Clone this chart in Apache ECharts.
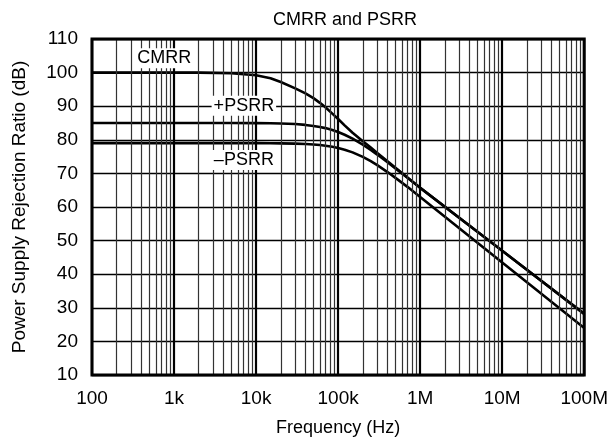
<!DOCTYPE html>
<html>
<head>
<meta charset="utf-8">
<script src="https://cdn.jsdelivr.net/npm/echarts@6/dist/echarts.min.js"></script>
<style>
html, body { margin: 0; padding: 0; background: #fff; }
#chart { width: 611px; height: 442px; }
</style>
</head>
<body>
<div id="chart"></div>
<script>
// frequency points (Hz)
var freqs = [100, 1000, 2000, 5000, 10000, 15000, 20000, 30000, 40000, 50000, 60000, 70000, 85000, 100000, 120000, 150000, 200000, 250000, 300000, 400000, 500000, 700000, 1000000, 10000000, 100000000];
var cmrr = [100, 100, 100, 99.8, 99.2, 98.3, 97.2, 95.3, 93.8, 92.4, 91.0, 89.7, 87.8, 86.2, 84.3, 82.1, 79.6, 77.7, 76.1, 73.6, 71.7, 68.8, 65.7, 47.0, 28.2];
var psrrPos = [85, 85, 85, 85, 84.96, 84.92, 84.85, 84.68, 84.43, 84.12, 83.83, 83.48, 82.9, 82.3, 81.5, 80.33, 78.54, 76.96, 75.6, 73.3, 71.5, 68.7, 65.7, 47.0, 28.2];
var psrrNeg = [79, 79, 79, 79, 79, 78.97, 78.93, 78.85, 78.74, 78.6, 78.43, 78.24, 77.92, 77.57, 77.06, 76.26, 74.9, 73.63, 72.45, 70.4, 68.68, 66.0, 62.97, 43.5, 24.0];

// tick labels of the log axis
var xTickValues = [100, 1000, 10000, 100000, 1000000, 10000000, 100000000];
var xTickLabels = ['100', '1k', '10k', '100k', '1M', '10M', '100M'];

// minor grid: 2..9 in every decade
var decades = [100, 1000, 10000, 100000, 1000000, 10000000];
var minorSteps = [2, 3, 4, 5, 6, 7, 8, 9];

// curve names placed on the plot
var curveLabels = ['CMRR', '+PSRR', '\u2013PSRR'];
var curveLabelFreq = [760, 7100, 7100];
var curveLabelDb = [104.3, 90.1, 74.0];

function pairs(ys) {
	return freqs.map(function (f, i) { return [f, ys[i]] })
}

var minorLines = []
decades.forEach(function (d) {
	minorSteps.forEach(function (m) {
		minorLines.push({ xAxis: d * m })
	})
})

var chart = echarts.init(document.getElementById('chart'))
var font = 'Liberation Sans, Arial, sans-serif'

var curveStyle = {
	type: 'line',
	showSymbol: false,
	symbol: 'none',
	z: 4,
	lineStyle: { color: '#000', width: 2.6, join: 'round' }
}

chart.setOption({
	animation: false,
	title: {
		text: 'CMRR and PSRR',
		left: 340,
		textAlign: 'center',
		top: 6,
		textStyle: { fontFamily: font, fontSize: 18, fontWeight: 'normal', color: '#000' }
	},
	grid: {
		left: 92,
		right: 23,
		top: 39,
		bottom: 67,
		show: true,
		borderColor: '#000',
		borderWidth: 3,
		z: 6
	},
	xAxis: {
		type: 'log',
		logBase: 10,
		min: 100,
		max: 100000000,
		splitNumber: 6,
		name: 'Frequency (Hz)',
		nameLocation: 'middle',
		nameGap: 44,
		nameTextStyle: { fontFamily: font, fontSize: 18, color: '#000' },
		axisLine: { show: false },
		axisTick: { show: false },
		axisLabel: {
			fontFamily: font,
			fontSize: 19,
			color: '#000',
			margin: 14,
			formatter: function (v) {
				var i = xTickValues.indexOf(Math.round(v))
				return i >= 0 ? xTickLabels[i] : ''
			}
		},
		splitLine: { show: true, lineStyle: { color: '#000', width: 2.2 } }
	},
	yAxis: {
		type: 'value',
		min: 10,
		max: 110,
		interval: 10,
		name: 'Power Supply Rejection Ratio (dB)',
		nameLocation: 'middle',
		nameGap: 63,
		nameTextStyle: { fontFamily: font, fontSize: 19, color: '#000' },
		axisLine: { show: false },
		axisTick: { show: false },
		axisLabel: { fontFamily: font, fontSize: 19, color: '#000', margin: 14 },
		splitLine: { show: true, lineStyle: { color: '#000', width: 1.4 } }
	},
	series: [
		{
			name: 'minor',
			type: 'line',
			data: [[100, 10]],
			symbol: 'none',
			lineStyle: { opacity: 0 },
			silent: true,
			z: 1,
			markLine: {
				silent: true,
				symbol: ['none', 'none'],
				label: { show: false },
				lineStyle: { color: '#333', width: 1.2, type: 'solid' },
				data: minorLines
			}
		},
		Object.assign({ name: 'CMRR', data: pairs(cmrr) }, curveStyle),
		Object.assign({ name: '+PSRR', data: pairs(psrrPos) }, curveStyle),
		Object.assign({ name: '-PSRR', data: pairs(psrrNeg) }, curveStyle),
		{
			name: 'labels',
			type: 'scatter',
			symbolSize: 0,
			silent: true,
			z: 5,
			itemStyle: { opacity: 1 },
			data: curveLabels.map(function (t, i) { return [curveLabelFreq[i], curveLabelDb[i], t] }),
			label: {
				show: true,
				position: 'inside',
				formatter: function (p) { return p.value[2] },
				fontFamily: font,
				fontSize: 18,
				color: '#000',
				opacity: 1,
				backgroundColor: '#fff',
				padding: [1, 2]
			}
		}
	]
})
</script>
</body>
</html>
